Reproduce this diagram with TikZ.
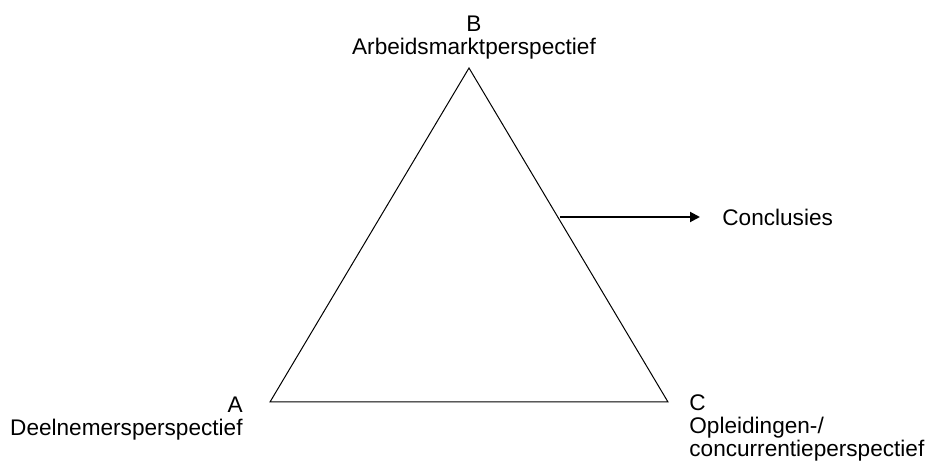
\documentclass[tikz,border=0pt]{standalone}
\usepackage{fontspec}
\setmainfont{Liberation Sans}
\usetikzlibrary{arrows.meta}

\begin{document}
\begin{tikzpicture}[x=0.5pt, y=-0.5pt,
    lbl/.style={inner sep=0pt, font=\fontsize{11.3}{11.5}\selectfont}]
    \useasboundingbox (0, 0) rectangle (933, 469);
    % corners of the triangle
    \coordinate (A) at (270, 402);
    \coordinate (B) at (469, 68);
    \coordinate (C) at (668, 402);
    \draw[line width=0.5pt, line join=miter] (A) -- (B) -- (C) -- cycle;
    % labels (base = baseline of the last line)
    \node[lbl, anchor=base east, align=right] (labA) at (243, 436) {A\\Deelnemersperspectief};
    \node[lbl, anchor=base, align=center] (labB) at (474, 55) {B\\Arbeidsmarktperspectief};
    \node[lbl, anchor=base west, align=left] (labC) at (689, 457) {C\\Opleidingen-/\\concurrentieperspectief};
    \node[lbl, anchor=base west] (concl) at (722, 226) {Conclusies};
    % arrow
    \coordinate (from) at (560, 217);
    \coordinate (to) at (700, 217);
    \draw[line width=1pt, -{Triangle[length=5pt, width=5pt]}] (from) -- (to);
\end{tikzpicture}
\end{document}
